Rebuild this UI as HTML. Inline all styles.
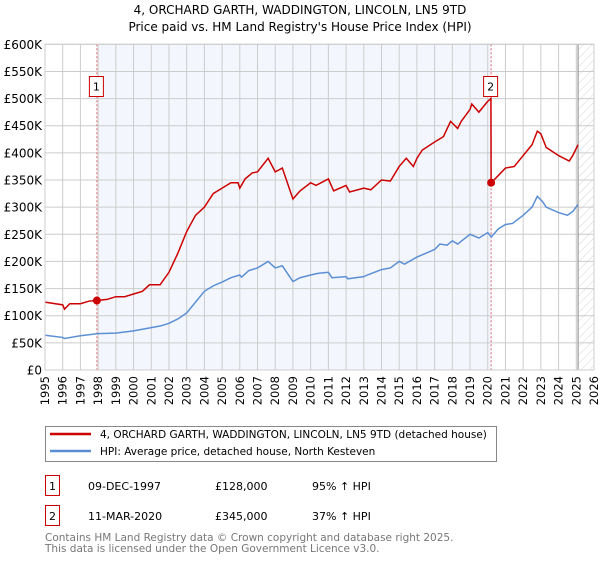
<!DOCTYPE html>
<html><head><meta charset="utf-8">
<style>
body{margin:0;background:#fff;font-family:"DejaVu Sans","Liberation Sans",sans-serif;}
svg text{font-family:"DejaVu Sans","Liberation Sans",sans-serif;}
</style></head>
<body>
<svg id="chart" width="600" height="560" viewBox="0 0 600 560">
<defs>
<pattern id="hatch" patternUnits="userSpaceOnUse" width="6" height="6" patternTransform="rotate(45)">
<line x1="0" y1="0" x2="0" y2="6" stroke="#d4d4d4" stroke-width="1"/>
</pattern>
</defs>
<text x="300" y="14" text-anchor="middle" font-size="12">4, ORCHARD GARTH, WADDINGTON, LINCOLN, LN5 9TD</text>
<text x="300" y="31" text-anchor="middle" font-size="12">Price paid vs. HM Land Registry's House Price Index (HPI)</text>
<g id="plot"></g>
<g>
<rect x="45.5" y="426.5" width="451" height="35" fill="#fff" stroke="#888"/>
<line x1="50" y1="434" x2="91" y2="434" stroke="#cc0000" stroke-width="2.5"/>
<text x="100" y="438" font-size="10.5">4, ORCHARD GARTH, WADDINGTON, LINCOLN, LN5 9TD (detached house)</text>
<line x1="50" y1="451" x2="91" y2="451" stroke="#5b8fd4" stroke-width="2.5"/>
<text x="100" y="455" font-size="10.5">HPI: Average price, detached house, North Kesteven</text>
</g>
<g font-size="11">
<rect x="45.5" y="475.5" width="14" height="20" fill="#fff" stroke="#cc0000"/>
<text x="52.5" y="490" text-anchor="middle">1</text>
<text x="88" y="490">09-DEC-1997</text>
<text x="215" y="490">£128,000</text>
<text x="312" y="490">95% ↑ HPI</text>
</g>
<g font-size="11">
<rect x="45.5" y="505.5" width="14" height="20" fill="#fff" stroke="#cc0000"/>
<text x="52.5" y="520" text-anchor="middle">2</text>
<text x="88" y="520">11-MAR-2020</text>
<text x="215" y="520">£345,000</text>
<text x="312" y="520">37% ↑ HPI</text>
</g>
<text x="45" y="541" font-size="10.5" fill="#777">Contains HM Land Registry data © Crown copyright and database right 2025.</text>
<text x="45" y="552" font-size="10.5" fill="#777">This data is licensed under the Open Government Licence v3.0.</text>
</svg>
<script>
const hpiYears=[1995,1996,1996.1,1997,1998,1999,1999.5,2000,2001,2001.5,2002,2002.5,2003,2003.5,2004,2004.5,2005,2005.5,2006,2006.1,2006.5,2007,2007.6,2008,2008.4,2009,2009.4,2010,2010.4,2011,2011.2,2012,2012.1,2013,2013.2,2014,2014.5,2015,2015.3,2016,2016.5,2017,2017.3,2017.7,2018,2018.3,2019,2019.5,2020,2020.2,2020.6,2021,2021.4,2022,2022.5,2022.8,2023.1,2023.3,2024,2024.5,2024.8,2025.1];
const hpiValues=[64,60,58,63,67,68,70,72,78,81,86,94,105,125,145,155,162,170,175,171,183,188,200,188,192,163,170,175,178,180,170,172,168,172,175,185,188,200,195,208,215,222,232,230,238,232,250,243,253,245,260,268,270,285,300,320,310,300,290,285,292,305];
const priceYears=[1995,1996,1996.1,1996.4,1997,1997.5,1997.93,1998.5,1999,1999.5,2000,2000.5,2000.9,2001.5,2002,2002.5,2003,2003.5,2004,2004.5,2005,2005.5,2005.9,2006,2006.3,2006.7,2007,2007.6,2008,2008.4,2009,2009.4,2010,2010.3,2011,2011.3,2012,2012.2,2013,2013.4,2014,2014.5,2015,2015.4,2015.8,2016,2016.3,2017,2017.5,2017.9,2018.3,2018.5,2019,2019.1,2019.5,2020,2020.18,2020.19,2020.5,2021,2021.5,2022,2022.5,2022.8,2023,2023.3,2024,2024.6,2024.8,2025.1];
const priceValues=[125,120,112,122,122,127,128,130,135,135,140,145,157,157,180,215,255,285,300,325,335,345,345,335,352,363,365,390,365,372,315,330,345,340,352,330,340,328,335,332,350,348,375,390,375,390,405,420,430,458,445,458,480,490,475,495,500,345,355,372,375,395,415,440,435,410,395,385,395,415];
const saleYears=[1997.93,2020.19];
const saleValues=[128,345];
const saleLabels=["1","2"];
const yTicks=[0,50,100,150,200,250,300,350,400,450,500,550,600];
const yTickLabels=["£0","£50K","£100K","£150K","£200K","£250K","£300K","£350K","£400K","£450K","£500K","£550K","£600K"];
const xTicks=[1995,1996,1997,1998,1999,2000,2001,2002,2003,2004,2005,2006,2007,2008,2009,2010,2011,2012,2013,2014,2015,2016,2017,2018,2019,2020,2021,2022,2023,2024,2025,2026];
const forecastStart=2025.1;

const L=45,R=594,T=44.3,B=370;
const X=y=>L+(y-1995)/(2026-1995)*(R-L);
const Y=v=>B-v/600*(B-T);
const NS="http://www.w3.org/2000/svg";
const g=document.getElementById('plot');
function mk(tag,attrs,parent){const e=document.createElementNS(NS,tag);for(const k in attrs)e.setAttribute(k,attrs[k]);(parent||g).appendChild(e);return e;}

const shade=mk('rect',{x:X(saleYears[0]),y:T,width:X(saleYears[1])-X(saleYears[0]),height:B-T,fill:'#eef3fc',opacity:0.7});


const hatch=mk('rect',{x:X(forecastStart),y:T,width:R-X(forecastStart),height:B-T,fill:'url(#hatch)'});



xTicks.forEach(t=>{
  const l=mk('line',{x1:X(t),x2:X(t),y1:T,y2:B,stroke:'#ccc','stroke-width':1});
  
  
  const tx=mk('text',{x:0,y:0,'font-size':11.5,'text-anchor':'end',transform:`translate(${X(t)+4},${B+6}) rotate(-90)`});
  
  
  tx.textContent=t;
});
yTicks.forEach((t,i)=>{
  const l=mk('line',{x1:L,x2:R,y1:Y(t),y2:Y(t),stroke:'#ccc','stroke-width':1});
  
  
  const tx=mk('text',{x:L-3,y:Y(t)+4.5,'font-size':12,'text-anchor':'end'});
  
  
  tx.textContent=yTickLabels[i];
});
const fl=mk('line',{x1:X(forecastStart),x2:X(forecastStart),y1:T,y2:B,stroke:'#999','stroke-width':1.2});



saleYears.forEach(s=>{
  const l=mk('line',{x1:X(s),x2:X(s),y1:T,y2:B,stroke:'#e06666','stroke-width':1,'stroke-dasharray':'2,2'});
  
  
});

const hp=mk('polyline',{points:hpiYears.map((y,i)=>X(y)+','+Y(hpiValues[i])).join(' '),fill:'none',stroke:'#5b8fd4','stroke-width':1.5});


const pp=mk('polyline',{points:priceYears.map((y,i)=>X(y)+','+Y(priceValues[i])).join(' '),fill:'none',stroke:'#cc0000','stroke-width':1.5});



saleYears.forEach((s,i)=>{
  const c=mk('circle',{cx:X(s),cy:Y(saleValues[i]),r:4,fill:'#cc0000'});
  
  
  const bx=mk('rect',{x:X(s)-7.5,y:76.5,width:14,height:20,fill:'#fff',stroke:'#cc0000'});
  
  
  const t=mk('text',{x:X(s)-0.5,y:90.5,'font-size':11,'text-anchor':'middle'});
  
  
  t.textContent=saleLabels[i];
});
mk('rect',{x:L,y:T,width:R-L,height:B-T,fill:'none',stroke:'#ccc'});
</script>
</body></html>
